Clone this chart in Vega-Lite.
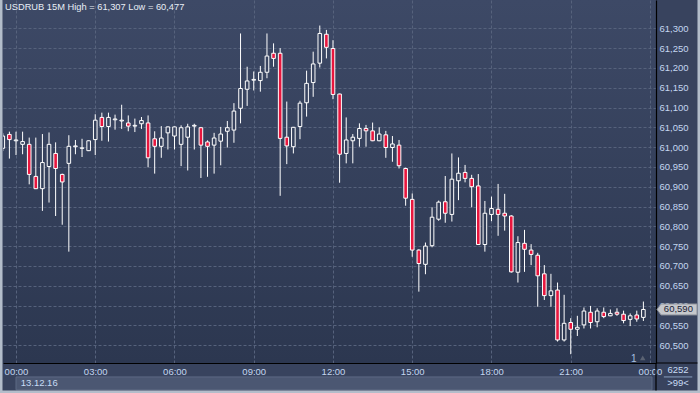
{
  "$schema": "https://vega.github.io/schema/vega-lite/v6.json",
  "width": 653,
  "height": 363,
  "autosize": {"type": "none"},
  "padding": {"left": 3, "top": 0, "right": 44, "bottom": 30},
  "background": "#38435e",
  "config": {
    "view": {
      "stroke": null,
      "fill": {
        "gradient": "linear", "x1": 0, "y1": 0, "x2": 0, "y2": 1,
        "stops": [{"offset": 0, "color": "#3d4966"}, {"offset": 1, "color": "#2c3750"}]
      }
    },
    "axis": {
      "labelFont": "Liberation Sans",
      "labelFontSize": 9.5,
      "labelColor": "#c4d6f0",
      "domainColor": "#000000",
      "domainWidth": 1.2,
      "gridColor": "#56627c",
      "gridDash": [3, 2],
      "gridWidth": 1,
      "ticks": false,
      "labelOverlap": false,
      "labelSeparation": 0,
      "title": null
    }
  },
  "datasets": {
    "candles": [
      {"i": -2, "o": 60997, "h": 61035, "l": 60990, "c": 61028},
      {"i": -1, "o": 61032, "h": 61039, "l": 60971, "c": 61019},
      {"i": 0, "o": 61016, "h": 61039, "l": 60980, "c": 61018},
      {"i": 1, "o": 61007, "h": 61039, "l": 60982, "c": 61014},
      {"i": 2, "o": 61007, "h": 61024, "l": 60906, "c": 60931},
      {"i": 3, "o": 60926, "h": 61024, "l": 60894, "c": 60895},
      {"i": 4, "o": 60895, "h": 61033, "l": 60839, "c": 60961},
      {"i": 5, "o": 60951, "h": 61037, "l": 60860, "c": 61007},
      {"i": 6, "o": 60984, "h": 61012, "l": 60826, "c": 60946},
      {"i": 7, "o": 60931, "h": 60933, "l": 60804, "c": 60912},
      {"i": 8, "o": 60959, "h": 61030, "l": 60736, "c": 61002},
      {"i": 9, "o": 61001, "h": 61018, "l": 60982, "c": 61003},
      {"i": 10, "o": 60997, "h": 61021, "l": 60975, "c": 60998},
      {"i": 11, "o": 60991, "h": 61017, "l": 60990, "c": 61016},
      {"i": 12, "o": 61019, "h": 61083, "l": 60980, "c": 61068},
      {"i": 13, "o": 61075, "h": 61087, "l": 61016, "c": 61052},
      {"i": 14, "o": 61052, "h": 61087, "l": 61014, "c": 61075},
      {"i": 15, "o": 61069, "h": 61082, "l": 61044, "c": 61071},
      {"i": 16, "o": 61066, "h": 61107, "l": 61046, "c": 61068},
      {"i": 17, "o": 61061, "h": 61080, "l": 61040, "c": 61053},
      {"i": 18, "o": 61053, "h": 61072, "l": 61038, "c": 61055},
      {"i": 19, "o": 61059, "h": 61076, "l": 61046, "c": 61067},
      {"i": 20, "o": 61061, "h": 61080, "l": 60949, "c": 60973},
      {"i": 21, "o": 61021, "h": 61040, "l": 60933, "c": 61002},
      {"i": 22, "o": 61002, "h": 61053, "l": 60973, "c": 61023},
      {"i": 23, "o": 61036, "h": 61052, "l": 60994, "c": 61051},
      {"i": 24, "o": 61028, "h": 61052, "l": 60994, "c": 61051},
      {"i": 25, "o": 61007, "h": 61055, "l": 60952, "c": 61049},
      {"i": 26, "o": 61025, "h": 61059, "l": 60941, "c": 61051},
      {"i": 27, "o": 61053, "h": 61059, "l": 60994, "c": 61055},
      {"i": 28, "o": 61049, "h": 61051, "l": 60922, "c": 61005},
      {"i": 29, "o": 61013, "h": 61017, "l": 60925, "c": 61002},
      {"i": 30, "o": 61005, "h": 61036, "l": 60933, "c": 61023},
      {"i": 31, "o": 61015, "h": 61051, "l": 60954, "c": 61033},
      {"i": 32, "o": 61040, "h": 61066, "l": 60999, "c": 61049},
      {"i": 33, "o": 61043, "h": 61111, "l": 61011, "c": 61091},
      {"i": 34, "o": 61098, "h": 61287, "l": 61060, "c": 61148},
      {"i": 35, "o": 61146, "h": 61203, "l": 61104, "c": 61167},
      {"i": 36, "o": 61169, "h": 61191, "l": 61143, "c": 61171},
      {"i": 37, "o": 61168, "h": 61205, "l": 61140, "c": 61189},
      {"i": 38, "o": 61189, "h": 61287, "l": 61174, "c": 61230},
      {"i": 39, "o": 61237, "h": 61262, "l": 61203, "c": 61224},
      {"i": 40, "o": 61237, "h": 61250, "l": 60877, "c": 61022},
      {"i": 41, "o": 61025, "h": 61115, "l": 60957, "c": 61003},
      {"i": 42, "o": 61001, "h": 61051, "l": 60984, "c": 61050},
      {"i": 43, "o": 61052, "h": 61117, "l": 61020, "c": 61111},
      {"i": 44, "o": 61112, "h": 61193, "l": 61077, "c": 61161},
      {"i": 45, "o": 61163, "h": 61241, "l": 61127, "c": 61210},
      {"i": 46, "o": 61212, "h": 61307, "l": 61201, "c": 61287},
      {"i": 47, "o": 61285, "h": 61296, "l": 61224, "c": 61252},
      {"i": 48, "o": 61249, "h": 61270, "l": 61121, "c": 61133},
      {"i": 49, "o": 61134, "h": 61135, "l": 60910, "c": 60982},
      {"i": 50, "o": 60984, "h": 61075, "l": 60959, "c": 61018},
      {"i": 51, "o": 61016, "h": 61033, "l": 60959, "c": 61025},
      {"i": 52, "o": 61022, "h": 61060, "l": 61001, "c": 61047},
      {"i": 53, "o": 61047, "h": 61056, "l": 61001, "c": 61041},
      {"i": 54, "o": 61041, "h": 61062, "l": 61015, "c": 61016},
      {"i": 55, "o": 61016, "h": 61050, "l": 61015, "c": 61033},
      {"i": 56, "o": 61031, "h": 61041, "l": 60973, "c": 60999},
      {"i": 57, "o": 60999, "h": 61028, "l": 60963, "c": 61008},
      {"i": 58, "o": 61005, "h": 61018, "l": 60946, "c": 60953},
      {"i": 59, "o": 60946, "h": 60948, "l": 60852, "c": 60871},
      {"i": 60, "o": 60868, "h": 60883, "l": 60723, "c": 60740},
      {"i": 61, "o": 60740, "h": 60742, "l": 60635, "c": 60706},
      {"i": 62, "o": 60704, "h": 60759, "l": 60679, "c": 60750},
      {"i": 63, "o": 60751, "h": 60848, "l": 60747, "c": 60823},
      {"i": 64, "o": 60818, "h": 60865, "l": 60814, "c": 60861},
      {"i": 65, "o": 60862, "h": 60927, "l": 60809, "c": 60833},
      {"i": 66, "o": 60830, "h": 60984, "l": 60812, "c": 60919},
      {"i": 67, "o": 60915, "h": 60974, "l": 60866, "c": 60934},
      {"i": 68, "o": 60936, "h": 60955, "l": 60911, "c": 60921},
      {"i": 69, "o": 60921, "h": 60930, "l": 60848, "c": 60900},
      {"i": 70, "o": 60902, "h": 60932, "l": 60753, "c": 60754},
      {"i": 71, "o": 60754, "h": 60864, "l": 60736, "c": 60833},
      {"i": 72, "o": 60830, "h": 60875, "l": 60813, "c": 60845},
      {"i": 73, "o": 60843, "h": 60907, "l": 60776, "c": 60830},
      {"i": 74, "o": 60833, "h": 60882, "l": 60789, "c": 60826},
      {"i": 75, "o": 60826, "h": 60828, "l": 60683, "c": 60685},
      {"i": 76, "o": 60684, "h": 60775, "l": 60658, "c": 60759},
      {"i": 77, "o": 60757, "h": 60791, "l": 60685, "c": 60742},
      {"i": 78, "o": 60740, "h": 60755, "l": 60702, "c": 60729},
      {"i": 79, "o": 60727, "h": 60733, "l": 60597, "c": 60675},
      {"i": 80, "o": 60680, "h": 60702, "l": 60614, "c": 60625},
      {"i": 81, "o": 60625, "h": 60680, "l": 60597, "c": 60637},
      {"i": 82, "o": 60639, "h": 60658, "l": 60509, "c": 60513},
      {"i": 83, "o": 60513, "h": 60627, "l": 60509, "c": 60555},
      {"i": 84, "o": 60557, "h": 60568, "l": 60477, "c": 60540},
      {"i": 85, "o": 60540, "h": 60574, "l": 60523, "c": 60545},
      {"i": 86, "o": 60551, "h": 60595, "l": 60542, "c": 60586},
      {"i": 87, "o": 60583, "h": 60599, "l": 60542, "c": 60557},
      {"i": 88, "o": 60559, "h": 60593, "l": 60545, "c": 60586},
      {"i": 89, "o": 60583, "h": 60595, "l": 60568, "c": 60572},
      {"i": 90, "o": 60574, "h": 60590, "l": 60573, "c": 60580},
      {"i": 91, "o": 60583, "h": 60593, "l": 60574, "c": 60578},
      {"i": 92, "o": 60578, "h": 60587, "l": 60555, "c": 60562},
      {"i": 93, "o": 60565, "h": 60580, "l": 60548, "c": 60574},
      {"i": 94, "o": 60576, "h": 60587, "l": 60559, "c": 60566},
      {"i": 95, "o": 60570, "h": 60610, "l": 60561, "c": 60590}
    ],
    "notes": [
      {"title": "USDRUB 15M High = 61,307 Low = 60,477", "date": "13.12.16", "last": 60590, "lastLabel": "60,590", "bars": "6252", "zoom": ">99<", "n": "1"}
    ]
  },
  "layer": [
    {
      "data": {"name": "candles"},
      "mark": {"type": "rule", "color": "#ffffff", "strokeWidth": 1, "clip": true},
      "encoding": {
        "x": {
          "field": "i",
          "type": "quantitative",
          "scale": {"domain": [-1.9685, 96.91], "nice": false, "zero": false, "padding": 0},
          "axis": {
            "values": [0, 12, 24, 36, 48, 60, 72, 84, 96],
            "labelExpr": "((datum.value / 4) % 24 < 10 ? '0' : '') + ((datum.value / 4) % 24) + ':00'",
            "labelPadding": 3,
            "labelOverlap": false,
            "labelFlush": false,
            "labelBound": false,
            "grid": true
          }
        },
        "y": {
          "field": "l",
          "type": "quantitative",
          "scale": {"domain": [60454.8, 61371.5], "nice": false, "zero": false, "padding": 0},
          "axis": {
            "orient": "right",
            "values": [60500, 60550, 60600, 60650, 60700, 60750, 60800, 60850, 60900, 60950, 61000, 61050, 61100, 61150, 61200, 61250, 61300],
            "tickCount": 17,
            "labelExpr": "datum.value > 61320 ? '' : format(datum.value, ',.0f')",
            "labelPadding": 3,
            "labelOverlap": false,
            "labelBound": false,
            "labelFlush": false,
            "grid": true
          }
        },
        "y2": {"field": "h"}
      }
    },
    {
      "data": {"name": "candles"},
      "mark": {"type": "bar", "width": 3.6, "stroke": "#ffffff", "strokeWidth": 1, "clip": true},
      "encoding": {
        "x": {"field": "i", "type": "quantitative"},
        "y": {"field": "o", "type": "quantitative"},
        "y2": {"field": "c"},
        "fill": {
          "condition": {"test": "datum.c < datum.o", "value": "#e8163e"},
          "field": "o",
          "type": "quantitative",
          "scale": {"domain": [60454.8, 61371.5], "range": ["#2c3750", "#3d4966"]},
          "legend": null
        }
      }
    },
    {
      "data": {"name": "notes"},
      "layer": [
        {
          "mark": {"type": "rect", "fill": "#4b5772", "stroke": "#5d6a84", "strokeWidth": 1},
          "encoding": {
            "x": {"datum": 0, "type": "quantitative"},
            "x2": {"datum": 96.3},
            "y": {"datum": 60419.6, "type": "quantitative"},
            "y2": {"datum": 60387}
          }
        },
        {
          "mark": {"type": "rect", "fill": "#b3bdca"},
          "encoding": {
            "x": {"datum": -2.5, "type": "quantitative"},
            "x2": {"datum": -2.044},
            "y": {"datum": 61371.5, "type": "quantitative"},
            "y2": {"datum": 60379}
          }
        },
        {
          "mark": {"type": "rect", "fill": "#b3bdca"},
          "encoding": {
            "x": {"datum": -2.5, "type": "quantitative"},
            "x2": {"datum": 103.6},
            "y": {"datum": 60385.4, "type": "quantitative"},
            "y2": {"datum": 60379}
          }
        },
        {
          "mark": {"type": "rect", "fill": "#b3bdca"},
          "encoding": {
            "x": {"datum": 103.19, "type": "quantitative"},
            "x2": {"datum": 103.6},
            "y": {"datum": 61371.5, "type": "quantitative"},
            "y2": {"datum": 60379}
          }
        },
        {
          "mark": {"type": "rule", "color": "#000000", "strokeWidth": 1.2},
          "encoding": {"x": {"datum": 96.91, "type": "quantitative"}, "y": {"datum": 60454.8, "type": "quantitative"}, "y2": {"datum": 60385.4}}
        },
        {
          "mark": {"type": "rule", "color": "#000000", "strokeWidth": 1.2},
          "encoding": {"x": {"datum": 96.91, "type": "quantitative"}, "x2": {"datum": 103.19}, "y": {"datum": 60454.8, "type": "quantitative"}}
        },
        {
          "mark": {"type": "text", "align": "left", "baseline": "middle", "font": "Liberation Sans", "fontSize": 9.3, "color": "#e8eef6"},
          "encoding": {
            "x": {"datum": -1.666, "type": "quantitative"},
            "y": {"datum": 61353, "type": "quantitative"},
            "text": {"field": "title"}
          }
        },
        {
          "mark": {"type": "text", "align": "left", "baseline": "middle", "font": "Liberation Sans", "fontSize": 9.5, "color": "#c8dcf5"},
          "encoding": {
            "x": {"datum": 0.71, "type": "quantitative"},
            "y": {"datum": 60405, "type": "quantitative"},
            "text": {"field": "date"}
          }
        },
        {
          "mark": {"type": "point", "shape": "M-1,0L-0.8,-0.275L1,-0.275L1,0.275L-0.8,0.275Z", "size": 1600, "filled": true, "fill": "#c6c8cc", "stroke": "#8a8f99", "strokeWidth": 1, "opacity": 1},
          "encoding": {
            "x": {"datum": 100.09, "type": "quantitative"},
            "y": {"field": "last", "type": "quantitative"}
          }
        },
        {
          "mark": {"type": "text", "align": "center", "baseline": "middle", "font": "Liberation Sans", "fontSize": 9.5, "color": "#1c2335"},
          "encoding": {
            "x": {"datum": 100.3, "type": "quantitative"},
            "y": {"field": "last", "type": "quantitative"},
            "text": {"field": "lastLabel"}
          }
        },
        {
          "mark": {"type": "text", "align": "center", "baseline": "middle", "font": "Liberation Sans", "fontSize": 9.5, "color": "#c8dcf5"},
          "encoding": {"x": {"datum": 100.24, "type": "quantitative"}, "y": {"datum": 60437, "type": "quantitative"}, "text": {"field": "bars"}}
        },
        {
          "mark": {"type": "text", "align": "center", "baseline": "middle", "font": "Liberation Sans", "fontSize": 9.5, "color": "#c8dcf5"},
          "encoding": {"x": {"datum": 100.24, "type": "quantitative"}, "y": {"datum": 60404, "type": "quantitative"}, "text": {"field": "zoom"}}
        },
        {
          "mark": {"type": "rule", "color": "#8aa0c0", "strokeWidth": 1},
          "encoding": {"x": {"datum": 98.1, "type": "quantitative"}, "x2": {"datum": 102.4}, "y": {"datum": 60419.6, "type": "quantitative"}}
        },
        {
          "mark": {"type": "text", "align": "center", "baseline": "middle", "font": "Liberation Sans", "fontSize": 10, "color": "#a8c0e0"},
          "encoding": {"x": {"datum": 93.55, "type": "quantitative"}, "y": {"datum": 60465, "type": "quantitative"}, "text": {"field": "n"}}
        },
        {
          "mark": {"type": "point", "shape": "triangle-up", "size": 30, "filled": true, "color": "#5a6272", "opacity": 1},
          "encoding": {"x": {"datum": 94.9, "type": "quantitative"}, "y": {"datum": 60468, "type": "quantitative"}}
        }
      ]
    }
  ]
}
